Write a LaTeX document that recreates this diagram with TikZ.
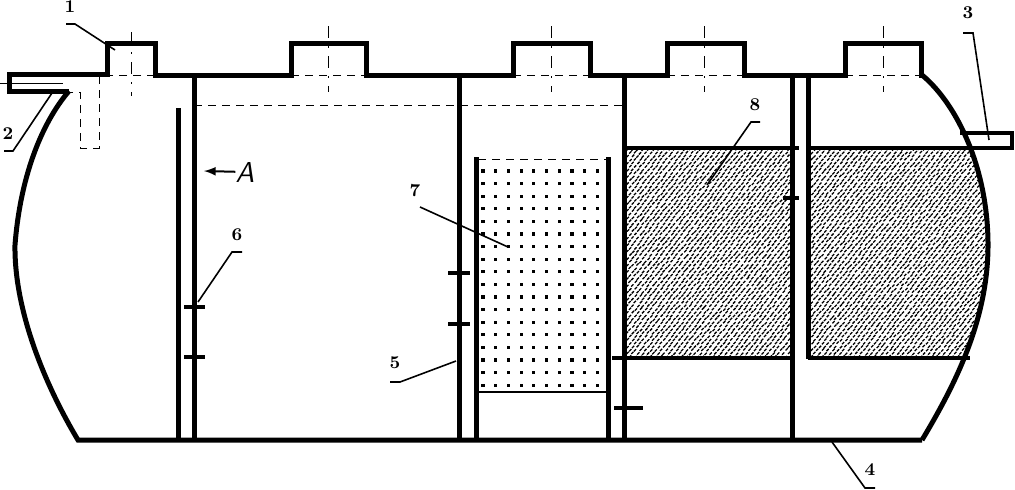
\documentclass[tikz,border=0pt]{standalone}
\usepackage{tikz}

\begin{document}
\begin{tikzpicture}[x=0.5pt,y=-0.5pt,line cap=butt]
\tikzset{wall/.style = {line width=2.5pt},
  slab/.style = {line width=2.2pt},
  thin dash/.style = {line width=0.5pt,dash pattern=on 4pt off 3pt},
  center line/.style = {line width=0.45pt,dash pattern=on 6pt off 4pt on 1pt off 4pt},
  leader/.style = {line width=0.8pt},
  mark tick/.style = {line width=2.2pt},
  num/.style = {font=\small\bfseries,inner sep=0pt}}
\useasboundingbox (0,0) rectangle (1015,489);

%anchor points
\coordinate (pipeA) at (9,74);
\coordinate (pipeB) at (9,91);
\coordinate (arcL) at (69,91);
\coordinate (botL) at (78,440);
\coordinate (botR) at (922,440);
\coordinate (topR) at (922,75);

%gravel fill
\pgfmathsetseed{7}
\begin{scope}
\clip (626,150) rectangle (990,357);
\clip (600,75) -- (topR) .. controls (958,105) and (988,170) .. (988,245) .. controls (988,320) and (955,385) .. (botR) -- (600,440) -- cycle;
\foreach \i in {0,...,70} {
  \foreach \j in {0,...,62} {
    \pgfmathsetmacro{\px}{626+5.2*\i+2.6*mod(\j,2)+rand*0.6}
    \pgfmathsetmacro{\py}{150+3.4*\j+rand*0.6}
    \fill[black] (\px,\py) -- ++(2.2,-2.2) -- ++(0.9,0.9) -- ++(-2.2,2.2) -- cycle;
  }
}
\end{scope}
\fill[white] (794,146) rectangle (806,360);

%media dots
\foreach \i in {0,...,9} {
  \foreach \j in {0,...,17} {
    \fill ({483+12.7*\i-1.6},{171+12.6*\j-1.6}) rectangle +(3.2,3.2);
  }
}

%shell
\draw[wall,line join=miter] (arcL) -- (pipeB) -- (pipeA) -- (107,74) -- (107,43) -- (155,43) -- (155,75)
  -- (291,75) -- (291,43) -- (366,43) -- (366,75)
  -- (513,75) -- (513,43) -- (590,43) -- (590,75)
  -- (667,75) -- (667,43) -- (744,43) -- (744,75)
  -- (845,75) -- (845,43) -- (921,43) -- (921,75) -- (topR);
\draw[wall] (arcL) .. controls (40,125) and (20,180) .. (15,245) .. controls (14,310) and (45,385) .. (botL) -- (botR);
\draw[wall] (topR) .. controls (958,105) and (988,170) .. (988,245) .. controls (988,320) and (955,385) .. (botR);
\draw[slab] (960,133) -- (1012,133) -- (1012,148) -- (975,148);

%partitions
\draw[wall] (194,75) -- (194,440);
\draw[wall] (178,108) -- (178,440);
\draw[wall] (459,75) -- (459,440);
\draw[wall] (476,157) -- (476,440);
\draw[wall] (608,157) -- (608,440);
\draw[wall] (624,75) -- (624,440);
\draw[wall] (792,75) -- (792,440);
\draw[wall] (808,75) -- (808,359);
\draw[slab] (624,148) -- (799,148);
\draw[slab] (808,148) -- (975,148);
\draw[slab] (612,358) -- (792,358);
\draw[slab] (808,358) -- (970,358);

%ticks
\draw[mark tick] (184,307) -- (205,307);
\draw[mark tick] (184,357) -- (205,357);
\draw[mark tick] (448,273) -- (470,273);
\draw[mark tick] (448,324) -- (470,324);
\draw[mark tick] (614,408) -- (643,408);
\draw[mark tick] (783,198) -- (799,198);

%hidden lines
\draw[thin dash] (194,105) -- (624,105);
\draw[thin dash] (478,159) -- (606,159);
\draw[line width=0.6pt] (478,392) -- (607,392);
\draw[thin dash] (99,76) -- (99,148) -- (80,148) -- (80,92) -- (70,92);
\draw[thin dash] (155,75) -- (107,75);
\draw[thin dash] (291,75) -- (366,75);
\draw[thin dash] (513,75) -- (590,75);
\draw[thin dash] (667,75) -- (744,75);
\draw[thin dash] (845,75) -- (921,75);
\draw[line width=0.4pt] (0,83) -- (63,83);
\foreach \cx/\ya/\yb in {131/32/96,328/26/92,551/26/92,704/26/92,883/26/92} {
  \draw[center line] (\cx,\ya) -- (\cx,\yb);
}

%labels
\node[num] (lab1) at (70,7) {1};
\node[num] (lab2) at (8,134) {2};
\node[num] (lab3) at (968,13) {3};
\node[num] (lab4) at (870,470) {4};
\node[num] (lab5) at (395,363) {5};
\node[num] (lab6) at (237,235) {6};
\node[num] (lab7) at (415,191) {7};
\node[num] (lab8) at (755,105) {8};
\node[inner sep=0pt,font=\Large\sffamily\itshape] (labA) at (245,172) {A};

%leaders
\draw[leader] (66,24) -- (75,24) -- (115,50);
\draw[leader] (4,151) -- (13,151) -- (52,93);
\draw[leader] (963,33) -- (973,33) -- (989,140);
\draw[leader] (832,442) -- (865,488) -- (875,488);
\draw[leader] (390,382) -- (400,382) -- (456,361);
\draw[leader] (242,252) -- (232,252) -- (198,302);
\draw[leader] (420,207) -- (508,247);
\draw[leader] (760,122) -- (751,122) -- (707,185);
\draw[-latex,line width=1pt] (labA) -- (204,171);
\end{tikzpicture}
\end{document}
